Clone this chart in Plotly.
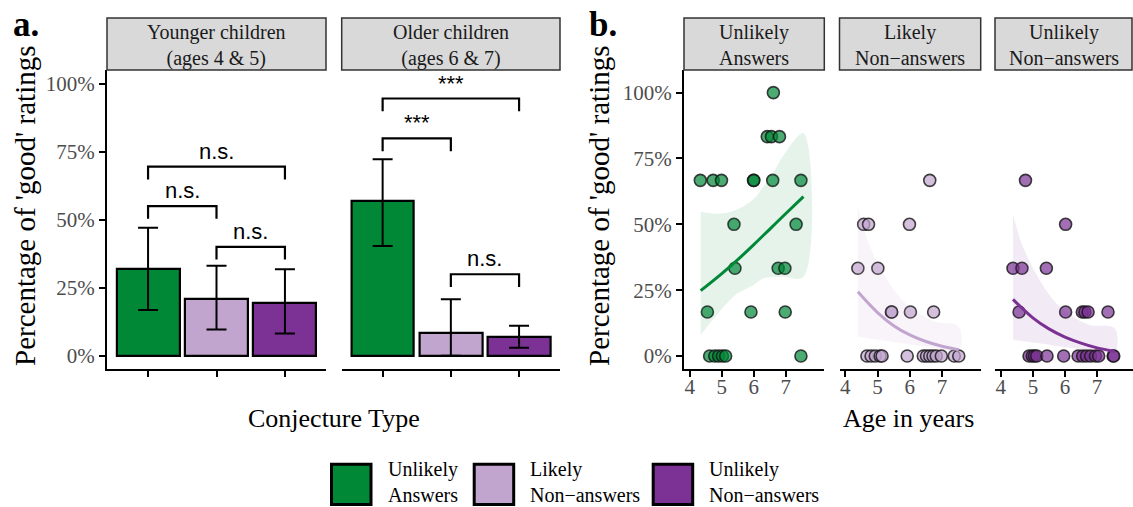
import plotly.graph_objects as go

W, H = 1133, 507

# ---------------- data ----------------
conj_types = ["Unlikely\nAnswers", "Likely\nNon\u2212answers", "Unlikely\nNon\u2212answers"]
colors = ["#008837", "#C2A5CF", "#7B3294"]
point_fill = ["rgba(0,136,55,0.7)", "rgba(194,165,207,0.7)", "rgba(123,50,148,0.7)"]
ribbon_fill = ["rgba(0,136,55,0.10)", "rgba(194,165,207,0.12)", "rgba(123,50,148,0.10)"]

young_mean = [31.8, 20.9, 19.3]
young_lo = [16.8, 9.7, 8.2]
young_hi = [47.1, 33.1, 31.8]
old_mean = [56.9, 8.5, 7.0]
old_lo = [40.4, 0.0, 2.9]
old_hi = [72.3, 20.8, 11.0]

# significance brackets: (first bar, second bar, bracket level %, label)
young_brackets = [(1, 3, 69.6, "n.s."), (1, 2, 55.1, "n.s."), (2, 3, 40.1, "n.s.")]
old_brackets = [(1, 3, 94.7, "***"), (1, 2, 80.0, "***"), (2, 3, 30.0, "n.s.")]
bracket_tip = 4.7

# panel b: individual children (age in years, % 'good' ratings)
ua_age = [6.61, 6.42, 6.55, 6.80, 4.33, 4.73, 4.99, 5.99, 6.00, 6.59, 7.47,
          5.38, 7.32, 5.41, 6.76, 6.97, 4.55, 5.91, 6.98,
          4.62, 4.78, 4.90, 5.02, 5.12, 7.47]
ua_pct = [100, 83.3, 83.3, 83.3, 66.7, 66.7, 66.7, 66.7, 66.7, 66.7, 66.7,
          50, 50, 33.3, 33.3, 33.3, 16.7, 16.7, 16.7,
          0, 0, 0, 0, 0, 0]
ln_age = [6.62, 4.57, 4.72, 5.99, 4.39, 5.01, 5.43, 5.44, 6.02, 6.74,
          4.67, 4.80, 4.93, 5.08, 5.14, 5.92, 6.42, 6.52, 6.62, 6.72, 6.82, 6.98, 7.38, 7.52]
ln_pct = [66.7, 50, 50, 50, 33.3, 33.3, 16.7, 16.7, 16.7, 16.7,
          0, 0, 0, 0, 0, 0, 0, 0, 0, 0, 0, 0, 0, 0]
un_age = [4.77, 6.02, 4.38, 4.66, 5.42, 4.57, 6.02, 6.54, 6.62, 6.72, 7.34,
          4.88, 4.98, 5.05, 5.12, 5.44, 5.96, 6.41, 6.55, 6.67, 6.80, 6.95, 7.05, 7.50, 7.52]
un_pct = [66.7, 50, 33.3, 33.3, 33.3, 16.7, 16.7, 16.7, 16.7, 16.7, 16.7,
          0, 0, 0, 0, 0, 0, 0, 0, 0, 0, 0, 0, 0, 0]

# fitted curves
ua_fit_age = [4.34, 5.0, 5.5, 6.0, 6.5, 7.0, 7.55]
ua_fit = [24.8, 31.3, 36.6, 42.3, 48.2, 54.1, 60.5]
ua_ci_age = [4.34, 4.94, 5.46, 5.99, 6.30, 6.61, 6.92, 7.55]
ua_ci_hi = [54.8, 54.0, 55.5, 59.5, 64.5, 69.6, 76.0, 84.6]
ua_ci_lo = [8.0, 17.0, 23.5, 27.0, 29.5, 30.0, 30.1, 30.1]

ln_fit_age = [4.39, 5.0, 5.5, 6.0, 6.5, 7.0, 7.52]
ln_fit = [24.4, 16.5, 11.5, 8.0, 5.5, 3.7, 2.4]
ln_ci_age = [4.39, 4.72, 5.24, 5.76, 6.27, 6.79, 7.52]
ln_ci_hi = [56.7, 42.8, 30.1, 21.3, 16.2, 13.0, 11.1]
ln_ci_lo = [7.3, 6.6, 5.8, 4.8, 3.9, 2.9, 2.0]

un_fit_age = [4.38, 5.0, 5.5, 6.0, 6.5, 7.0, 7.55]
un_fit = [21.5, 14.5, 10.3, 7.2, 4.9, 3.1, 1.8]
un_ci_age = [4.38, 4.69, 5.21, 5.73, 6.25, 6.77, 7.55]
un_ci_hi = [53.6, 41.5, 28.9, 20.0, 14.9, 11.8, 10.5]
un_ci_lo = [6.3, 5.6, 4.8, 3.8, 3.0, 2.3, 1.6]

pct_ticks = [0, 25, 50, 75, 100]
pct_labels = ["0%", "25%", "50%", "75%", "100%"]
age_ticks = [4, 5, 6, 7]

SERIF = "Liberation Serif"
SANS = "Liberation Sans"


def px(x):
    return x / W


def py(y):
    return 1 - y / H


fig = go.Figure()

# ---------------- panel a: bars ----------------
cats = [1, 2, 3]
for k, (mean, lo, hi) in enumerate([(young_mean, young_lo, young_hi), (old_mean, old_lo, old_hi)]):
    xa = "x" if k == 0 else "x2"
    ya = "y" if k == 0 else "y2"
    fig.add_trace(go.Bar(
        x=cats, y=mean, xaxis=xa, yaxis=ya, width=0.92,
        marker=dict(color=colors, line=dict(color="black", width=2.2)),
        error_y=dict(type="data", symmetric=False,
                     array=[h - m for h, m in zip(hi, mean)],
                     arrayminus=[m - l for m, l in zip(mean, lo)],
                     color="black", thickness=2, width=10),
        showlegend=False, hoverinfo="skip"))

annotations = []
for k, brs in enumerate([young_brackets, old_brackets]):
    xa = "x" if k == 0 else "x2"
    ya = "y" if k == 0 else "y2"
    bx, by = [], []
    for (i, j, h, lab) in brs:
        bx += [i, i, j, j, None]
        by += [h - bracket_tip, h, h, h - bracket_tip, None]
        annotations.append(dict(x=(i + j) / 2, y=h, xref=xa, yref=ya, text=lab,
                                showarrow=False, yanchor="bottom", yshift=1,
                                font=dict(family=SANS, size=22, color="black")))
    fig.add_trace(go.Scatter(x=bx, y=by, xaxis=xa, yaxis=ya, mode="lines",
                             line=dict(color="black", width=2.2), cliponaxis=False,
                             showlegend=False, hoverinfo="skip"))

# ---------------- panel b: scatter + fits ----------------
facets = [
    (ua_age, ua_pct, ua_fit_age, ua_fit, ua_ci_age, ua_ci_hi, ua_ci_lo),
    (ln_age, ln_pct, ln_fit_age, ln_fit, ln_ci_age, ln_ci_hi, ln_ci_lo),
    (un_age, un_pct, un_fit_age, un_fit, un_ci_age, un_ci_hi, un_ci_lo),
]
for k, (ag, pc, fa, fv, ca, chi, clo) in enumerate(facets):
    xa = "x%d" % (k + 3)
    ya = "y%d" % (k + 3)
    fig.add_trace(go.Scatter(x=ag, y=pc, xaxis=xa, yaxis=ya, mode="markers",
                             marker=dict(size=12, color=point_fill[k],
                                         line=dict(color="rgba(20,20,20,0.8)", width=1.6)),
                             cliponaxis=False, showlegend=False, hoverinfo="skip"))
    fig.add_trace(go.Scatter(x=list(ca) + list(ca)[::-1], y=list(chi) + list(clo)[::-1],
                             xaxis=xa, yaxis=ya, mode="lines", fill="toself",
                             fillcolor=ribbon_fill[k], line=dict(width=0, shape="spline"),
                             showlegend=False, hoverinfo="skip"))
    fig.add_trace(go.Scatter(x=fa, y=fv, xaxis=xa, yaxis=ya, mode="lines",
                             line=dict(color=colors[k], width=3, shape="spline"),
                             showlegend=False, hoverinfo="skip"))

# ---------------- axes ----------------
ytop, ybot = 70, 369.3
base_axis = dict(showgrid=False, zeroline=False, fixedrange=True)
tickfont = dict(family=SERIF, size=21, color="#4D4D4D")

layout = dict(
    width=W, height=H, margin=dict(l=0, r=0, t=0, b=0),
    paper_bgcolor="white", plot_bgcolor="white", showlegend=False,
    bargap=0,
)
xdoms = [(107, 326), (341.7, 560), (684, 824.3), (839.5, 980.7), (995, W)]
for k in range(5):
    name = "xaxis" if k == 0 else "xaxis%d" % (k + 1)
    yname = "y" if k == 0 else "y%d" % (k + 1)
    d = dict(base_axis, domain=[px(xdoms[k][0]), px(xdoms[k][1])], anchor=yname,
             showline=True, linecolor="black", linewidth=2,
             ticks="outside", ticklen=6, tickwidth=2, tickcolor="black")
    if k < 2:
        d.update(range=[0.4, 3.6], tickvals=cats, showticklabels=False)
    else:
        rmax = 8.2 if k < 4 else 3.82 + (W - 995) / 32.1
        d.update(range=[3.82, rmax], tickvals=age_ticks, ticktext=[str(a) for a in age_ticks],
                 tickfont=tickfont, ticklabelstandoff=-9)
    layout[name] = d

for k in range(5):
    name = "yaxis" if k == 0 else "yaxis%d" % (k + 1)
    xname = "x" if k == 0 else "x%d" % (k + 1)
    rng = [-5.0, 105.2] if k < 2 else [-5.05, 108.6]
    d = dict(base_axis, domain=[py(ybot), py(ytop)], anchor=xname, range=rng)
    if k in (0, 2):
        d.update(showline=True, linecolor="black", linewidth=2, ticks="outside",
                 ticklen=6, tickwidth=2, tickcolor="black",
                 tickvals=pct_ticks, ticktext=pct_labels, tickfont=tickfont)
    else:
        d.update(showline=False, ticks="", showticklabels=False)
    layout[name] = d

fig.update_layout(**layout)

# ---------------- strips ----------------
shapes = []
strip_texts = [
    "Younger children<br>(ages 4 & 5)",
    "Older children<br>(ages 6 & 7)",
    "Unlikely<br>Answers",
    "Likely<br>Non\u2212answers",
    "Unlikely<br>Non\u2212answers",
]
for k, (x0, x1) in enumerate(xdoms):
    x1c = min(x1, W - 1)
    shapes.append(dict(type="rect", xref="paper", yref="paper",
                       x0=px(x0), x1=px(x1c), y0=py(ytop), y1=py(18),
                       fillcolor="#D9D9D9", line=dict(color="#333333", width=1.5), layer="above"))
    cx = (x0 + x1) / 2
    annotations.append(dict(x=px(cx), y=py(45), xref="paper", yref="paper", text=strip_texts[k],
                            showarrow=False, xanchor="center", yanchor="middle", borderpad=0,
                            font=dict(family=SERIF, size=20, color="#1A1A1A")))

# ---------------- titles / labels ----------------
annotations += [
    dict(x=px(11), y=py(24), xref="paper", yref="paper", text="<b>a.</b>", showarrow=False,
         xanchor="left", yanchor="middle", font=dict(family=SERIF, size=35, color="black")),
    dict(x=px(587), y=py(24), xref="paper", yref="paper", text="<b>b.</b>", showarrow=False,
         xanchor="left", yanchor="middle", font=dict(family=SERIF, size=35, color="black")),
    dict(x=px(25), y=py(206), xref="paper", yref="paper", text="Percentage of 'good' ratings",
         textangle=-90, showarrow=False, xanchor="center", yanchor="middle",
         font=dict(family=SERIF, size=29, color="black")),
    dict(x=px(599), y=py(206), xref="paper", yref="paper", text="Percentage of 'good' ratings",
         textangle=-90, showarrow=False, xanchor="center", yanchor="middle",
         font=dict(family=SERIF, size=29, color="black")),
    dict(x=px(333.5), y=py(418), xref="paper", yref="paper", text="Conjecture Type",
         showarrow=False, xanchor="center", yanchor="middle",
         font=dict(family=SERIF, size=26, color="black")),
    dict(x=px(908.5), y=py(418), xref="paper", yref="paper", text="Age in years",
         showarrow=False, xanchor="center", yanchor="middle",
         font=dict(family=SERIF, size=26, color="black")),
]

# ---------------- legend ----------------
key_x = [330, 472.7, 651.7]
text_x = [386.7, 529.3, 708.3]
for k in range(3):
    shapes.append(dict(type="rect", xref="paper", yref="paper",
                       x0=px(key_x[k] + 1.5), x1=px(key_x[k] + 41), y0=py(504.5), y1=py(464.2),
                       fillcolor=colors[k], line=dict(color="black", width=3)))
    annotations.append(dict(x=px(text_x[k]), y=0, xref="paper", yref="paper",
                            text=conj_types[k].replace("\n", "<br>"), align="left",
                            showarrow=False, xanchor="left", yanchor="bottom", borderpad=0,
                            font=dict(family=SERIF, size=20, color="black")))

fig.update_layout(shapes=shapes, annotations=annotations)
fig.write_html("out.html")
